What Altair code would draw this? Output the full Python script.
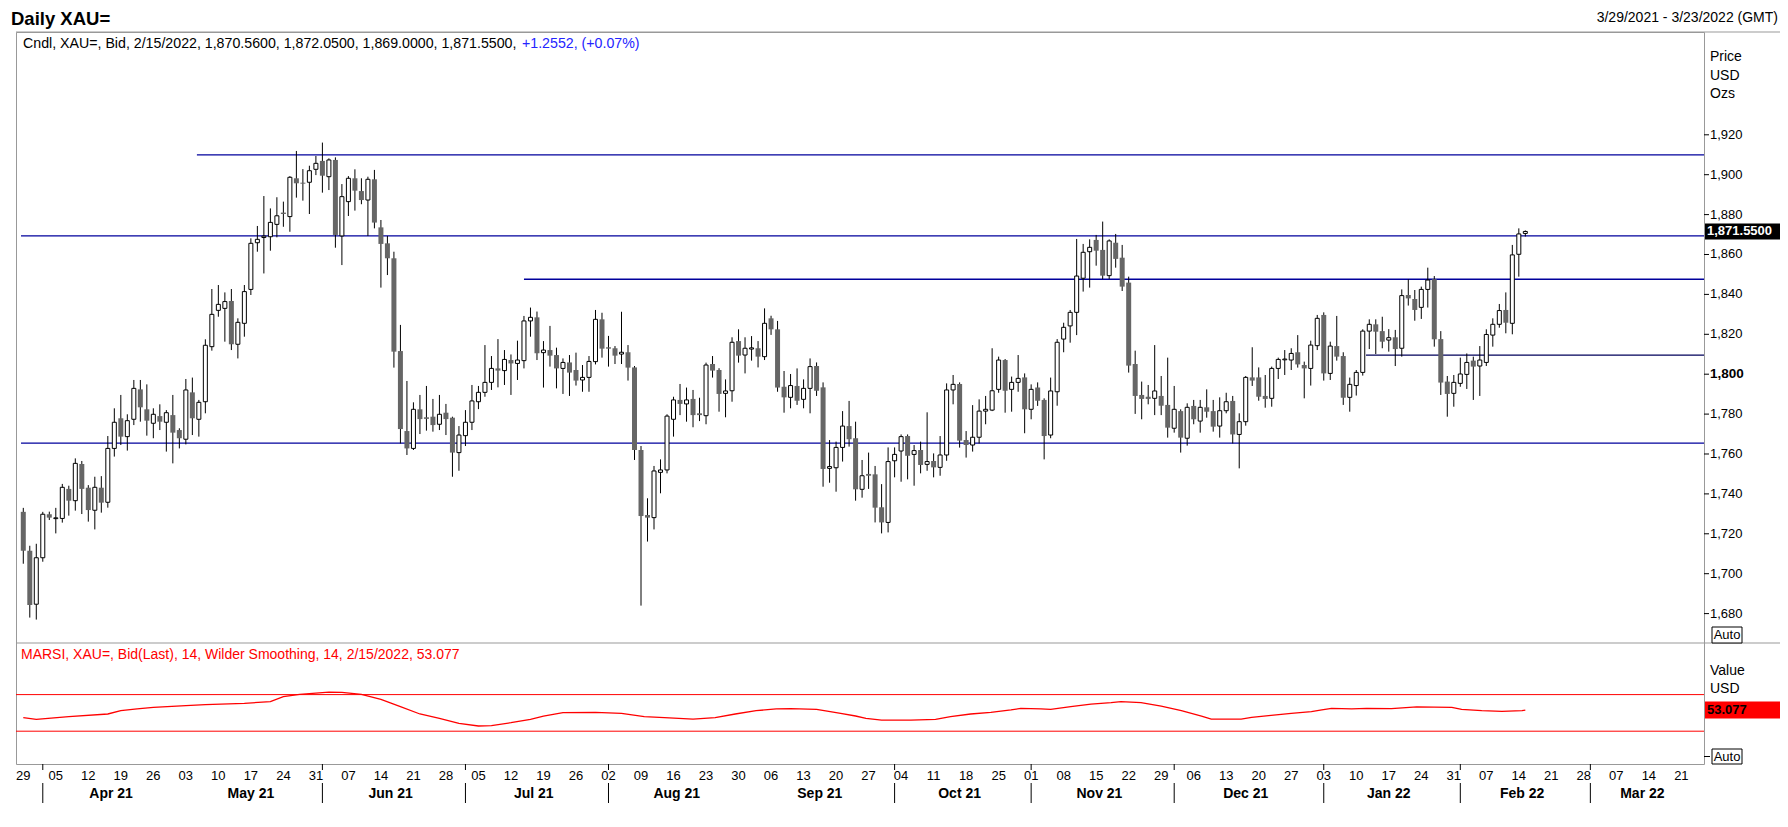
import altair as alt
import numpy as np
import pandas as pd

# ---------------- data ----------------
opens = [1731.0,1711.5,1684.7,1708.0,1729.8,1727.6,1727.7,1742.5,1736.6,1755.0,
1743.1,1731.8,1743.1,1735.8,1762.8,1777.9,1768.7,1777.4,1792.4,1782.4,
1775.4,1779.0,1775.9,1779.5,1772.0,1767.4,1790.9,1777.4,1786.2,1813.8,
1832.0,1833.0,1836.7,1815.0,1825.5,1842.5,1865.9,1868.5,1868.9,1875.1,
1881.0,1879.0,1898.2,1896.0,1896.2,1902.7,1906.9,1899.0,1907.4,1869.3,
1886.5,1898.2,1891.8,1887.3,1897.7,1873.6,1865.6,1858.1,1811.6,1771.5,
1762.8,1782.4,1778.4,1778.7,1774.9,1780.7,1778.2,1760.7,1769.2,1775.9,
1786.2,1790.9,1795.9,1802.9,1801.8,1807.1,1805.4,1806.8,1826.7,1828.5,
1810.8,1812.1,1809.6,1802.9,1805.9,1802.1,1797.1,1798.4,1806.3,1827.5,
1813.5,1813.0,1810.1,1811.0,1803.4,1762.0,1729.4,1728.1,1750.8,1752.0,
1777.4,1787.1,1785.1,1787.6,1780.4,1779.2,1805.1,1802.1,1790.4,1791.7,
1816.6,1809.6,1812.6,1813.0,1808.8,1828.0,1822.5,1793.7,1788.4,1794.1,
1787.4,1792.9,1804.1,1793.4,1752.8,1753.1,1763.3,1774.0,1767.9,1742.3,
1750.0,1749.8,1733.3,1725.7,1756.6,1761.5,1769.0,1759.8,1762.0,1754.8,
1756.5,1753.3,1759.5,1792.1,1795.1,1767.0,1764.5,1768.4,1781.5,1782.0,
1792.4,1807.1,1792.4,1795.9,1798.4,1782.4,1793.3,1787.1,1769.5,1791.2,
1817.6,1824.2,1831.0,1848.1,1861.4,1867.3,1862.3,1849.4,1865.9,1858.4,
1845.9,1805.1,1789.6,1788.7,1787.9,1789.1,1784.6,1772.9,1781.5,1767.9,
1784.1,1776.5,1783.4,1781.5,1774.0,1781.7,1786.6,1769.8,1776.2,1798.4,
1798.4,1789.1,1787.9,1802.9,1807.2,1807.1,1811.0,1804.6,1802.9,1814.3,
1829.7,1800.4,1814.1,1809.1,1788.4,1794.3,1800.9,1821.6,1825.0,1821.6,
1817.1,1818.5,1813.0,1839.7,1837.7,1833.5,1842.5,1847.6,1817.6,1796.3,
1790.4,1795.4,1799.9,1806.8,1804.1,1805.9,1819.6,1825.0,1832.2,1825.5,
1860.1,1870.56]

highs = [1733.0,1714.0,1715.0,1731.0,1731.1,1733.0,1745.0,1744.1,1757.8,1756.5,
1744.4,1748.6,1748.9,1769.0,1782.9,1789.6,1779.9,1797.1,1797.1,1794.9,
1782.9,1784.9,1782.0,1789.6,1772.9,1797.6,1798.3,1787.1,1817.5,1842.7,
1844.7,1841.0,1842.7,1828.0,1844.7,1868.1,1874.3,1889.3,1883.1,1888.7,
1886.5,1899.3,1911.9,1902.8,1904.5,1909.4,1916.1,1908.2,1908.7,1895.3,
1899.3,1902.7,1898.2,1899.0,1902.4,1877.3,1869.3,1861.4,1824.7,1796.6,
1785.9,1789.6,1794.1,1787.6,1789.6,1785.1,1778.7,1774.0,1782.0,1794.6,
1794.1,1814.6,1809.1,1817.6,1812.1,1809.9,1816.8,1829.2,1833.4,1831.4,
1816.6,1824.2,1813.3,1807.9,1809.6,1810.8,1804.6,1809.1,1832.2,1830.8,
1819.2,1814.1,1831.3,1814.6,1804.1,1764.0,1737.8,1754.0,1757.3,1779.9,
1788.7,1795.1,1793.3,1792.1,1788.2,1805.8,1809.1,1803.0,1797.4,1818.5,
1822.5,1818.5,1819.1,1816.6,1833.0,1829.3,1826.7,1801.6,1800.1,1802.9,
1797.4,1807.9,1805.9,1795.9,1767.0,1766.2,1781.5,1786.6,1776.2,1757.0,
1760.7,1754.0,1744.9,1763.3,1763.3,1769.8,1769.8,1764.5,1766.2,1780.9,
1760.3,1769.0,1795.4,1799.6,1795.9,1771.5,1784.5,1787.4,1789.1,1813.0,
1808.8,1807.6,1798.8,1809.6,1800.4,1794.9,1795.9,1787.9,1798.3,1817.6,
1825.8,1832.2,1867.8,1865.3,1867.6,1869.8,1876.5,1867.6,1870.3,1864.8,
1848.9,1811.8,1796.3,1794.6,1814.6,1799.1,1808.3,1794.1,1782.4,1785.4,
1787.1,1787.1,1792.4,1787.1,1788.4,1790.7,1789.1,1780.4,1799.1,1813.5,
1803.4,1799.6,1803.8,1808.3,1812.1,1813.0,1819.6,1806.3,1816.8,1829.7,
1831.0,1816.3,1829.2,1811.0,1798.3,1802.1,1822.5,1827.5,1827.5,1828.8,
1822.6,1822.2,1842.5,1847.6,1842.2,1843.9,1853.4,1849.2,1821.6,1799.1,
1799.6,1808.3,1810.4,1808.8,1814.1,1822.5,1828.0,1835.2,1841.0,1864.8,
1873.1,1872.05]

lows = [1705.0,1678.0,1677.0,1706.0,1726.9,1720.2,1725.6,1729.1,1731.6,1729.9,
1726.1,1722.2,1730.6,1733.1,1758.7,1764.5,1761.7,1774.5,1776.2,1769.2,
1767.9,1772.0,1761.2,1755.3,1762.8,1764.8,1769.5,1768.7,1780.4,1811.8,
1828.8,1816.3,1812.1,1807.9,1818.8,1839.7,1861.4,1850.5,1861.9,1868.6,
1873.9,1871.4,1888.5,1887.0,1880.3,1899.8,1891.0,1892.3,1863.4,1854.7,
1879.3,1882.0,1885.2,1869.3,1873.1,1843.4,1849.7,1803.3,1765.3,1759.5,
1762.0,1770.0,1771.7,1771.2,1772.0,1769.5,1748.6,1751.6,1764.0,1772.0,
1782.5,1788.7,1792.1,1793.4,1794.6,1789.6,1797.1,1802.9,1818.8,1807.1,
1793.3,1803.8,1792.9,1790.1,1789.1,1794.3,1791.2,1791.2,1804.9,1808.3,
1803.8,1805.1,1805.1,1796.8,1757.0,1684.0,1716.1,1722.2,1740.3,1750.3,
1768.7,1779.5,1776.2,1773.4,1776.5,1774.9,1798.3,1781.2,1778.4,1786.2,
1805.8,1800.4,1806.8,1803.4,1807.1,1819.7,1791.2,1780.7,1782.9,1784.6,
1782.9,1780.4,1789.1,1743.6,1745.6,1741.1,1756.2,1763.7,1736.6,1738.1,
1742.5,1725.7,1720.2,1720.7,1748.3,1746.1,1747.3,1744.1,1750.3,1751.6,
1748.3,1749.1,1756.6,1784.9,1763.2,1758.2,1761.2,1765.3,1774.9,1781.5,
1790.7,1780.7,1781.2,1791.2,1770.4,1777.4,1784.1,1757.3,1767.9,1784.2,
1811.0,1815.8,1819.6,1841.4,1843.4,1854.4,1847.7,1847.7,1853.4,1841.7,
1800.8,1780.1,1777.4,1784.9,1779.5,1779.5,1768.2,1770.7,1760.7,1764.2,
1774.9,1770.7,1778.2,1771.2,1768.2,1780.4,1765.3,1752.8,1774.2,1794.1,
1786.7,1783.2,1783.7,1797.6,1799.6,1802.1,1803.3,1787.9,1794.3,1812.1,
1796.8,1797.1,1806.8,1784.6,1781.2,1789.3,1799.3,1812.6,1810.1,1813.0,
1811.3,1804.1,1808.8,1834.4,1826.8,1827.7,1833.4,1813.8,1789.6,1778.7,
1783.7,1793.7,1792.6,1787.1,1789.1,1804.1,1813.8,1823.3,1820.5,1820.0,
1848.9,1869.00]

closes = [1711.5,1684.3,1708.0,1729.8,1728.1,1728.0,1743.3,1736.6,1755.3,1742.5,
1731.9,1743.3,1735.6,1762.8,1775.9,1768.7,1776.7,1792.9,1783.4,1776.7,
1779.9,1776.2,1780.7,1770.7,1767.9,1792.1,1777.9,1785.9,1814.5,1830.0,
1835.0,1836.4,1815.0,1826.0,1841.4,1865.6,1867.6,1869.2,1876.1,1879.4,
1880.3,1898.7,1895.7,1895.5,1902.0,1905.7,1899.5,1907.4,1869.8,1889.0,
1898.2,1892.0,1887.3,1897.7,1876.0,1865.3,1858.1,1811.3,1772.5,1762.8,
1782.4,1777.5,1777.6,1774.5,1779.9,1777.5,1760.7,1769.5,1775.9,1786.6,
1790.9,1795.9,1802.9,1801.8,1807.4,1805.4,1807.1,1826.7,1828.5,1810.5,
1812.1,1809.3,1802.9,1805.9,1800.8,1796.8,1798.4,1806.4,1827.5,1812.8,
1812.8,1809.3,1811.0,1803.3,1762.0,1728.9,1728.1,1751.5,1752.0,1779.0,
1787.1,1785.1,1787.1,1779.5,1779.5,1804.6,1801.8,1790.1,1791.6,1816.0,
1809.3,1813.0,1813.2,1808.8,1825.5,1822.5,1793.3,1788.4,1794.3,1786.7,
1792.9,1803.8,1791.7,1752.5,1753.7,1763.3,1774.0,1767.4,1742.3,1749.1,
1749.1,1733.1,1725.7,1756.2,1759.8,1768.7,1759.1,1761.7,1754.5,1756.2,
1753.3,1759.5,1792.1,1794.9,1766.7,1764.5,1768.4,1781.5,1782.4,1791.7,
1807.1,1791.7,1795.9,1797.9,1782.4,1792.4,1786.7,1769.0,1791.6,1816.0,
1823.5,1831.0,1849.2,1861.1,1863.6,1861.9,1849.4,1866.8,1857.8,1843.9,
1804.3,1789.1,1787.6,1787.6,1791.6,1784.2,1773.2,1782.4,1768.2,1783.4,
1777.4,1783.4,1781.2,1773.7,1781.7,1786.2,1769.8,1776.2,1798.4,1796.8,
1788.7,1787.6,1802.9,1807.4,1807.6,1810.4,1804.9,1802.9,1814.6,1828.0,
1800.4,1814.1,1808.8,1788.2,1794.9,1800.9,1821.6,1825.0,1821.3,1816.3,
1818.3,1812.6,1839.4,1838.0,1832.2,1842.5,1847.2,1817.5,1795.8,1790.1,
1795.9,1800.1,1805.9,1803.8,1807.1,1819.9,1825.0,1831.9,1825.8,1859.8,
1870.3,1871.55]

# MARSI (14, Wilder smoothing): trading-day index, value
rsi_idx = [0,2,7,13,15,17.5,20,25,28,34,38,40,42.5,47,49,52,55,58,61,64,
67,70,72,75,78,80,83,88,92,95.5,98.6,103,106.4,109.5,112.7,115.8,118,122,123.4,125.7,
128,129.6,132,136.5,140.3,142.6,145.7,148.8,151.9,153.4,156.5,158,161.1,164.2,167.3,168.8,
171.9,175,178.1,181.2,182.7,187.3,188.9,191.9,195,198.1,199.7,201.2,204.3,206.6,
210.4,214.3,219.7,221.2,224.3,227.4,230.5,231]
rsi_val = [44.8,43.0,45.9,48.8,52.4,54.3,56.1,57.9,59.0,60.5,62.3,67.7,70.3,72.8,72.4,70.3,64.8,56.8,48.8,44.1,
38.6,35.7,36.1,39.3,43.0,46.5,50.2,50.6,49.5,45.9,44.8,43.3,44.8,48.8,52.4,54.3,54.6,53.9,52.1,49.5,
46.6,44.1,42.2,42.2,43.0,45.9,48.8,50.6,53.2,55.0,54.3,53.9,56.8,59.7,61.2,62.3,
61.2,57.5,52.4,46.6,43.3,43.3,45.2,47.3,49.5,51.3,53.2,55.0,54.3,55.0,
54.6,56.5,56.1,53.9,52.4,51.7,52.4,53.1]
rsi_bands = [70, 30]
rsi_last = 53.077

# horizontal support / resistance lines (price, starting trading-day index)
levels = [1909.9, 1869.3, 1847.6, 1765.4]
level_start = [26.7, -0.35, 77.0, -0.35]
minor_levels = [1809.6]
minor_level_start = [206.5]

price_ticks = [1680, 1700, 1720, 1740, 1760, 1780, 1800, 1820, 1840, 1860, 1880, 1900, 1920]
week_labels = ["29","05","12","19","26","03","10","17","24","31","07","14","21","28",
               "05","12","19","26","02","09","16","23","30","06","13","20","27",
               "04","11","18","25","01","08","15","22","29","06","13","20","27",
               "03","10","17","24","31","07","14","21","28","07","14","21"]
month_labels = ["Apr 21","May 21","Jun 21","Jul 21","Aug 21","Sep 21",
                "Oct 21","Nov 21","Dec 21","Jan 22","Feb 22","Mar 22"]
month_sep_shown = [True, False, True, True, True, False, True, True, True, True, True, True]

header_date = "2/15/2022"
header_ohlc = [1870.56, 1872.05, 1869.00, 1871.55]
header_change = 1.2552
header_pct = 0.07
range_text = "3/29/2021 - 3/23/2022 (GMT)"

# ---------------- layout ----------------
FONT = "Liberation Sans, Arial, Helvetica, sans-serif"
W, H = 1688, 732
PRICE_DOMAIN = [1665.26, 1971.53]
PRICE_RANGE = [611, 0]
RSI_DOMAIN = [-5.85, 126.4]
RSI_RANGE = [732, 611]
X_DOMAIN = [-0.352, 257.71]

xs = alt.Scale(domain=X_DOMAIN, nice=False, zero=False)
ps = alt.Scale(domain=PRICE_DOMAIN, range=PRICE_RANGE, nice=False, zero=False)
rs = alt.Scale(domain=RSI_DOMAIN, range=RSI_RANGE, nice=False, zero=False)
pix = alt.Scale(domain=[0, H], range=[0, H])

n = len(closes)
candles = pd.DataFrame({"i": np.arange(n), "open": opens, "high": highs, "low": lows, "close": closes})

# trading calendar (weekdays) used for the date axis
dates = pd.bdate_range("2021-03-29", "2022-03-23")
cal = pd.DataFrame({"i": np.arange(len(dates)), "month": dates.to_period("M").astype(str), "dow": dates.dayofweek})
mondays = cal[cal["dow"] == 0]["i"].to_numpy()
weeks = pd.DataFrame({"i": mondays[:len(week_labels)], "t": week_labels})
mg = cal[cal["month"] >= "2021-04"].groupby("month")["i"]
months = pd.DataFrame({"mid": mg.mean().to_numpy(), "first": mg.min().to_numpy(),
                       "t": month_labels, "shown": month_sep_shown})
seps = months[months["shown"]]

X = lambda f: alt.X(f, scale=xs, axis=None)
YP = lambda f: alt.Y(f, scale=ps, axis=None)
YR = lambda f: alt.Y(f, scale=rs, axis=None)


def txt(t, x, y, size=14, color="black", weight="normal", align="left", baseline="middle"):
    return alt.Chart(pd.DataFrame({"t": [t]})).mark_text(
        align=align, baseline=baseline, fontSize=size, font=FONT, fontWeight=weight, color=color
    ).encode(x=alt.value(x), y=alt.value(y), text="t:N")


GRAY = "#999999"
frame_lines = alt.Chart(pd.DataFrame({"y": [0, 611]})).mark_rule(color=GRAY, strokeWidth=1).encode(
    x=alt.value(0), x2=alt.value(1764), y=alt.Y("y:Q", scale=pix, axis=None)
)

lvl = alt.Chart(pd.DataFrame({"p": levels, "s": level_start})).mark_rule(color="#00009c", strokeWidth=1.3).encode(
    x=X("s:Q"), x2=alt.value(W), y=YP("p:Q"))
lvl_minor = alt.Chart(pd.DataFrame({"p": minor_levels, "s": minor_level_start})).mark_rule(
    color="#00005a", strokeWidth=1.3).encode(x=X("s:Q"), x2=alt.value(W), y=YP("p:Q"))

wicks = alt.Chart(candles).mark_rule(color="black", strokeWidth=1).encode(
    x=X("i:Q"), y=YP("low:Q"), y2="high:Q")
down = alt.Chart(candles).transform_filter("datum.close < datum.open").mark_bar(
    size=5, color="#666666").encode(x=X("i:Q"), y=YP("open:Q"), y2="close:Q")
up = alt.Chart(candles).transform_filter("datum.close >= datum.open").mark_bar(
    size=4, fill="white", stroke="black", strokeWidth=1).encode(x=X("i:Q"), y=YP("open:Q"), y2="close:Q")

# right price axis
tick_df = pd.DataFrame({"p": price_ticks})
pticks = alt.Chart(tick_df).mark_rule(color="black", strokeWidth=1).encode(
    x=alt.value(W), x2=alt.value(W + 5), y=YP("p:Q"))
plabels = alt.Chart(tick_df).transform_filter("datum.p != 1800").mark_text(
    align="left", baseline="middle", fontSize=13, font=FONT).encode(
    x=alt.value(W + 6), y=YP("p:Q"), text=alt.Text("p:Q", format=","))
plabel_bold = alt.Chart(tick_df).transform_filter("datum.p == 1800").mark_text(
    align="left", baseline="middle", fontSize=13.5, font=FONT, fontWeight="bold").encode(
    x=alt.value(W + 6), y=YP("p:Q"), text=alt.Text("p:Q", format=","))

last_df = pd.DataFrame({"c": [header_ohlc[3]]})
last_box = alt.Chart(last_df).mark_rect(color="black", yOffset=-8, y2Offset=8).encode(
    x=alt.value(W + 1), x2=alt.value(1770), y=YP("c:Q"), y2="c:Q")
last_txt = alt.Chart(last_df).mark_text(align="left", baseline="middle", fontSize=13, font=FONT,
                                        fontWeight="bold", color="white").encode(
    x=alt.value(W + 3), y=YP("c:Q"), text=alt.Text("c:Q", format=",.4f"))

# RSI panel
rsi_df = pd.DataFrame({"i": rsi_idx, "v": rsi_val})
bands = alt.Chart(pd.DataFrame({"b": rsi_bands})).mark_rule(color="#ff0000", strokeWidth=1).encode(
    x=alt.value(0), x2=alt.value(W), y=YR("b:Q"))
rsi_line = alt.Chart(rsi_df).mark_line(color="#ff0000", strokeWidth=1.3).encode(x=X("i:Q"), y=YR("v:Q"))
rsi_last_df = pd.DataFrame({"v": [rsi_last]})
rsi_box = alt.Chart(rsi_last_df).mark_rect(color="#ff0000", yOffset=-8.5, y2Offset=8.5).encode(
    x=alt.value(W + 1), x2=alt.value(1770), y=YR("v:Q"), y2="v:Q")
rsi_txt = alt.Chart(rsi_last_df).mark_text(align="left", baseline="middle", fontSize=13, font=FONT,
                                           fontWeight="bold", color="black").encode(
    x=alt.value(W + 3), y=YR("v:Q"), text=alt.Text("v:Q", format=".3f"))

# auto boxes
auto_boxes = alt.Chart(pd.DataFrame({"y1": [595, 717], "y2": [611, 732]})).mark_rect(
    fill="white", stroke="black", strokeWidth=1).encode(
    x=alt.value(W + 8), x2=alt.value(W + 38),
    y=alt.Y("y1:Q", scale=pix, axis=None), y2="y2:Q")
auto_tick = alt.Chart(pd.DataFrame({"a": [1]})).mark_rule(color="black").encode(
    x=alt.value(W), x2=alt.value(W + 6), y=alt.value(724.5))

# date axis
week_txt = alt.Chart(weeks).mark_text(align="center", baseline="middle", fontSize=13, font=FONT).encode(
    x=X("i:Q"), y=alt.value(743.5), text="t:N")
month_txt = alt.Chart(months).mark_text(align="center", baseline="middle", fontSize=14, font=FONT,
                                        fontWeight="bold").encode(x=X("mid:Q"), y=alt.value(761.5), text="t:N")
sep_short = alt.Chart(seps).mark_rule(color="black", strokeWidth=1).encode(
    x=X("first:Q"), y=alt.value(732), y2=alt.value(738))
sep_long = alt.Chart(seps).mark_rule(color="black", strokeWidth=1).encode(
    x=X("first:Q"), y=alt.value(751), y2=alt.value(771))

head_black = "Cndl, XAU=, Bid, {}, {}, ".format(header_date, ", ".join(f"{v:,.4f}" for v in header_ohlc))
head_blue = f"+{header_change:.4f}, (+{header_pct:.2f}%)"
marsi = f"MARSI, XAU=, Bid(Last),  14, Wilder Smoothing, 14, {header_date}, {rsi_last:.3f}"

texts = [
    txt("Daily XAU=", -5, -7, size=18.5, weight="bold", baseline="alphabetic"),
    txt(range_text, 1762, -14, size=14, align="right"),
    txt(head_black, 7, 11.5, size=14.2),
    txt(head_blue, 506, 11.5, size=14.2, color="#2424ff"),
    txt("Price", W + 6, 25), txt("USD", W + 6, 43.5), txt("Ozs", W + 6, 61.7),
    txt("Auto", W + 23, 603, size=13, align="center"),
    txt(marsi, 5, 622.6, size=14, color="#ff0000"),
    txt("Value", W + 6, 638.6), txt("USD", W + 6, 657),
    txt("Auto", W + 23, 724.5, size=13, align="center"),
]

chart = alt.layer(
    frame_lines, lvl, lvl_minor, wicks, down, up,
    pticks, plabels, plabel_bold, last_box, last_txt,
    bands, rsi_line, rsi_box, rsi_txt,
    auto_boxes, auto_tick, week_txt, month_txt, sep_short, sep_long,
    *texts,
).resolve_scale(y="independent").properties(
    width=W, height=H,
    padding={"left": 8, "top": 24, "right": 76, "bottom": 44},
    autosize=alt.AutoSizeParams(type="none"),
    background="white",
).configure_view(stroke=GRAY, strokeWidth=1)

chart.save("out.html", embed_options={"renderer": "svg", "actions": False})
